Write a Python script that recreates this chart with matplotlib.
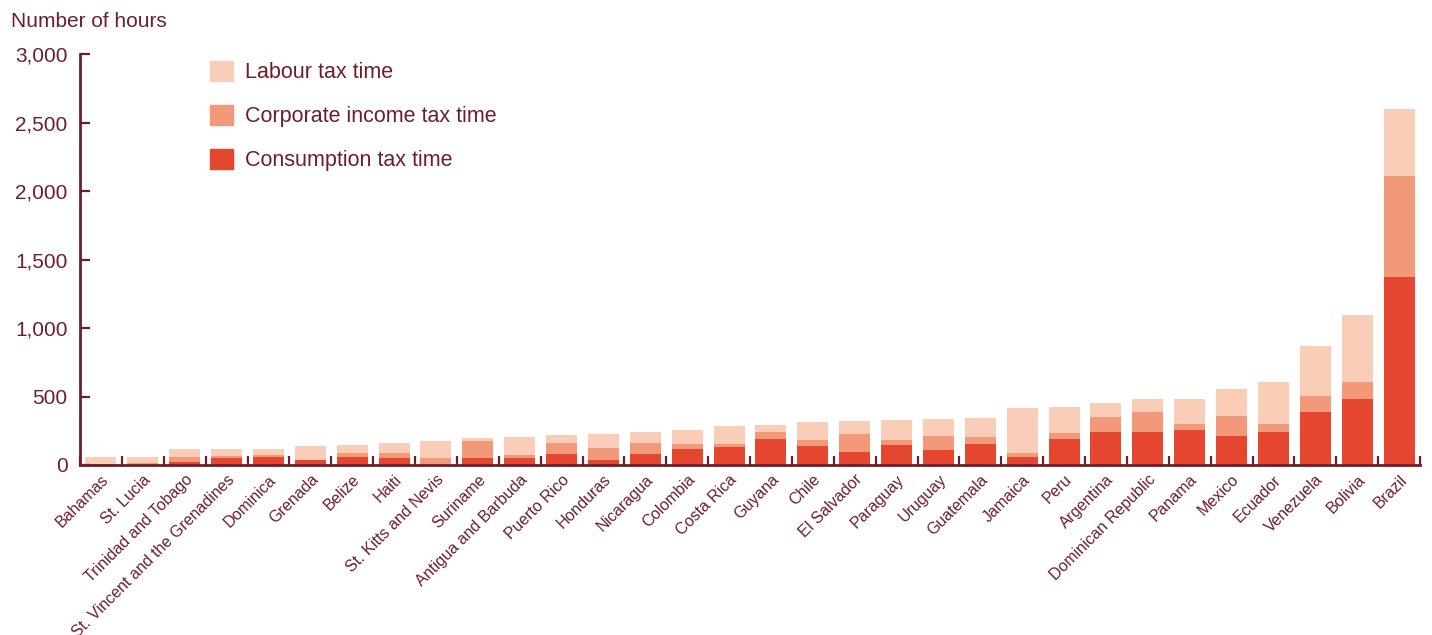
import matplotlib
matplotlib.use("Agg")
import matplotlib.pyplot as plt
from matplotlib.patches import Patch
from matplotlib.ticker import FuncFormatter, FixedLocator
import numpy as np

plt.rcParams['font.family'] = ['Liberation Sans', 'DejaVu Sans']

countries = ["Bahamas", "St. Lucia", "Trinidad and Tobago", "St. Vincent and the Grenadines",
             "Dominica", "Grenada", "Belize", "Haiti", "St. Kitts and Nevis", "Suriname",
             "Antigua and Barbuda", "Puerto Rico", "Honduras", "Nicaragua", "Colombia",
             "Costa Rica", "Guyana", "Chile", "El Salvador", "Paraguay", "Uruguay",
             "Guatemala", "Jamaica", "Peru", "Argentina", "Dominican Republic", "Panama",
             "Mexico", "Ecuador", "Venezuela", "Bolivia", "Brazil"]

consumption = [10, 0, 24, 53, 60, 39, 60, 53, 0, 53,
               53, 82, 39, 82, 119, 133, 191, 141, 97, 148,
               111, 155, 55, 193, 244, 244, 258, 215, 244, 390,
               484, 1374]
corporate = [0, 16, 36, 15, 15, 0, 30, 37, 53, 124,
             22, 80, 87, 80, 36, 22, 51, 43, 131, 36,
             102, 51, 29, 44, 109, 146, 44, 145, 58, 116,
             124, 736]
labour = [48, 44, 59, 51, 44, 101, 58, 72, 124, 22,
          131, 59, 102, 80, 102, 131, 51, 131, 95, 146,
          124, 138, 334, 189, 102, 94, 182, 197, 306, 364,
          484, 490]

dark = "#6E1E2B"
c_lab = "#F9CDB8"
c_corp = "#F29979"
c_cons = "#E5462F"

fig = plt.figure(figsize=(14.32, 6.35), dpi=100)
ax = fig.add_axes([80/1432, 1-465/635, 1340/1432, 411/635])

x = np.arange(len(countries))
cons = np.array(consumption)
corp = np.array(corporate)
lab = np.array(labour)
w = 0.74
ax.bar(x, cons, w, color=c_cons, label="Consumption tax time")
ax.bar(x, corp, w, bottom=cons, color=c_corp, label="Corporate income tax time")
ax.bar(x, lab, w, bottom=cons+corp, color=c_lab, label="Labour tax time")

ax.set_xlim(-0.5, len(countries)-0.5)
ax.set_ylim(0, 3000)

for s in ["top", "right"]:
    ax.spines[s].set_visible(False)
for s in ["left", "bottom"]:
    ax.spines[s].set_color(dark)
    ax.spines[s].set_linewidth(2)

ax.set_yticks(np.arange(0, 3001, 500))
ax.yaxis.set_major_formatter(FuncFormatter(lambda v, p: f"{int(v):,}"))
ax.tick_params(axis="y", direction="in", length=7, width=1.6, color=dark,
               labelcolor=dark, labelsize=15, pad=9)

ax.set_xticks(x)
ax.set_xticklabels(countries, rotation=45, ha="right", rotation_mode="anchor")
ax.tick_params(axis="x", which="major", length=0, labelcolor=dark, labelsize=11.5, pad=5)
ax.xaxis.set_minor_locator(FixedLocator(np.arange(-0.5, len(countries), 1.0)))
ax.tick_params(axis="x", which="minor", direction="in", length=6.5, width=1.6, color=dark)

fig.text(11/1432, 1-27/635, "Number of hours", color=dark, fontsize=15, va="baseline", ha="left")

handles = [Patch(color=c_lab), Patch(color=c_corp), Patch(color=c_cons)]
labels = ["Labour tax time", "Corporate income tax time", "Consumption tax time"]
ax.legend(handles, labels, loc="upper left", bbox_to_anchor=(0.097, 0.983), frameon=False,
          fontsize=15.5, labelcolor=dark, handlelength=1.07, handleheight=1.07,
          handletextpad=0.55, labelspacing=1.0, borderpad=0, borderaxespad=0)

fig.savefig("out.png", dpi=100)
